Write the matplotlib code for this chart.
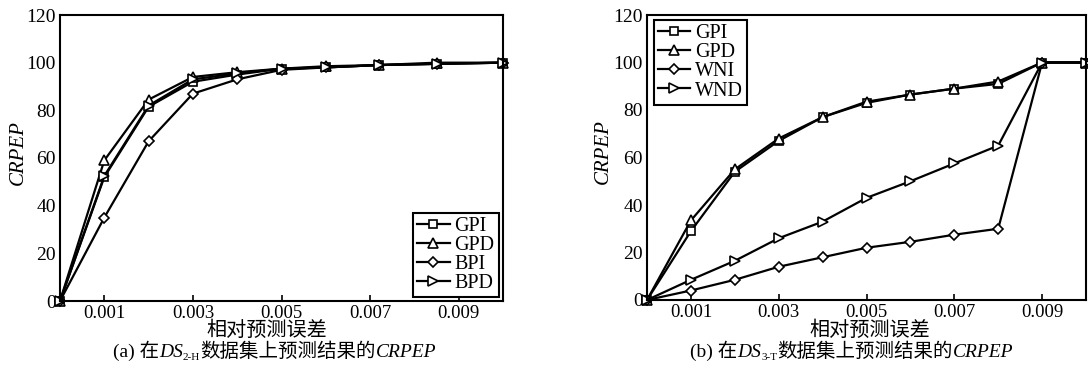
import numpy as np
import matplotlib
matplotlib.use("Agg")
import matplotlib.pyplot as plt

# === 数据 ===
xa = [0, 0.001, 0.002, 0.003, 0.004, 0.005, 0.006, 0.0072, 0.0085, 0.01]
a_gpi = [0, 52, 81.5, 92, 95, 97.5, 98, 99, 99.5, 100]
a_gpd = [0, 59, 84.5, 94, 96, 97.5, 98.5, 99, 100, 100]
a_bpi = [0, 35, 67, 87, 93, 97, 98, 99, 99.5, 100]
a_bpd = [0, 52.5, 82, 93, 95.5, 97.5, 98, 99, 99.5, 100]

xb = [0, 0.001, 0.002, 0.003, 0.004, 0.005, 0.006, 0.007, 0.008, 0.009, 0.01]
b_gpi = [0, 29, 54, 67, 77, 83, 86.5, 89, 91, 100, 100]
b_gpd = [0, 33.5, 55, 68, 77, 83.5, 86.5, 89, 92, 100, 100]
b_wni = [0, 4, 8.5, 14, 18, 22, 24.5, 27.5, 30, 100, 100]
b_wnd = [0, 8.5, 16.5, 26, 33, 43, 50, 57.5, 65, 100, 100]

xticks = [0.001, 0.003, 0.005, 0.007, 0.009]
xticklabels = ["0.001", "0.003", "0.005", "0.007", "0.009"]
yticks = [0, 20, 40, 60, 80, 100, 120]

FAM = ["Liberation Serif", "Noto Sans CJK SC"]
plt.rcParams["font.family"] = FAM

W, H = 1088, 374
fig = plt.figure(figsize=(W / 100, H / 100), dpi=100)


def add_axes(l, t, r, b):
    return fig.add_axes([l / W, 1 - b / H, (r - l) / W, (b - t) / H])


ax_a = add_axes(60, 15, 503, 301)
ax_b = add_axes(647, 15, 1086, 300)

mk = dict(color="black", lw=1.6, markerfacecolor="white", markeredgecolor="black",
          markeredgewidth=1.2, clip_on=False)

ax_a.plot(xa, a_gpi, marker="s", ms=6, label="GPI", **mk)
ax_a.plot(xa, a_gpd, marker="^", ms=7.5, label="GPD", **mk)
ax_a.plot(xa, a_bpi, marker="D", ms=5.5, label="BPI", **mk)
ax_a.plot(xa, a_bpd, marker=">", ms=7.5, label="BPD", **mk)

ax_b.plot(xb, b_gpi, marker="s", ms=6, label="GPI", **mk)
ax_b.plot(xb, b_gpd, marker="^", ms=7.5, label="GPD", **mk)
ax_b.plot(xb, b_wni, marker="D", ms=5.5, label="WNI", **mk)
ax_b.plot(xb, b_wnd, marker=">", ms=7.5, label="WND", **mk)

for ax in (ax_a, ax_b):
    ax.set_xlim(0, 0.01)
    ax.set_ylim(0, 120)
    ax.set_xticks(xticks)
    ax.set_xticklabels(xticklabels, fontsize=13.5)
    ax.set_yticks(yticks)
    ax.tick_params(axis="y", labelsize=14, length=0, pad=3)
    ax.tick_params(axis="x", direction="in", length=4, width=1.2, pad=3)
    for s in ax.spines.values():
        s.set_linewidth(1.5)

leg_kw = dict(fontsize=14.5, frameon=True, fancybox=False, edgecolor="black",
              handlelength=1.6, handletextpad=0.25, labelspacing=0.0,
              borderpad=0.2, borderaxespad=0)
la = ax_a.legend(loc="lower right", bbox_to_anchor=(0.99, 0.014), **leg_kw)
lb = ax_b.legend(loc="upper left", bbox_to_anchor=(0.016, 0.982), **leg_kw)
for lg in (la, lb):
    lg.get_frame().set_linewidth(1.5)
    lg.get_frame().set_alpha(1)

# 轴标签
fig.text(18 / W, 1 - 153 / H, "CRPEP", rotation=90, style="italic", fontsize=15,
         ha="center", va="center")
fig.text(603 / W, 1 - 152 / H, "CRPEP", rotation=90, style="italic", fontsize=15,
         ha="center", va="center")
fig.text(267 / W, 1 - 336 / H, "相对预测误差", fontsize=14.5, ha="center", va="baseline")
fig.text(870 / W, 1 - 336 / H, "相对预测误差", fontsize=14.5, ha="center", va="baseline")

# 图注（逐段拼接）
r = fig.canvas.get_renderer()


def caption(x, y, pieces):
    for txt, kw in pieces:
        dy = kw.pop("dy", 0)
        t = fig.text(x / W, 1 - (y + dy) / H, txt, va="baseline", ha="left", **kw)
        x += t.get_window_extent(r).width


caption(113, 357, [("(a) 在", dict(fontsize=14)),
                   ("DS", dict(fontsize=14, style="italic")),
                   ("2-H", dict(fontsize=8, dy=3)),
                   ("数据集上预测结果的", dict(fontsize=14)),
                   ("CRPEP", dict(fontsize=14, style="italic"))])
caption(690, 357, [("(b) 在", dict(fontsize=14)),
                   ("DS", dict(fontsize=14, style="italic")),
                   ("3-T", dict(fontsize=8, dy=3)),
                   ("数据集上预测结果的", dict(fontsize=14)),
                   ("CRPEP", dict(fontsize=14, style="italic"))])

fig.savefig("out.png", dpi=100)
plt.close(fig)
